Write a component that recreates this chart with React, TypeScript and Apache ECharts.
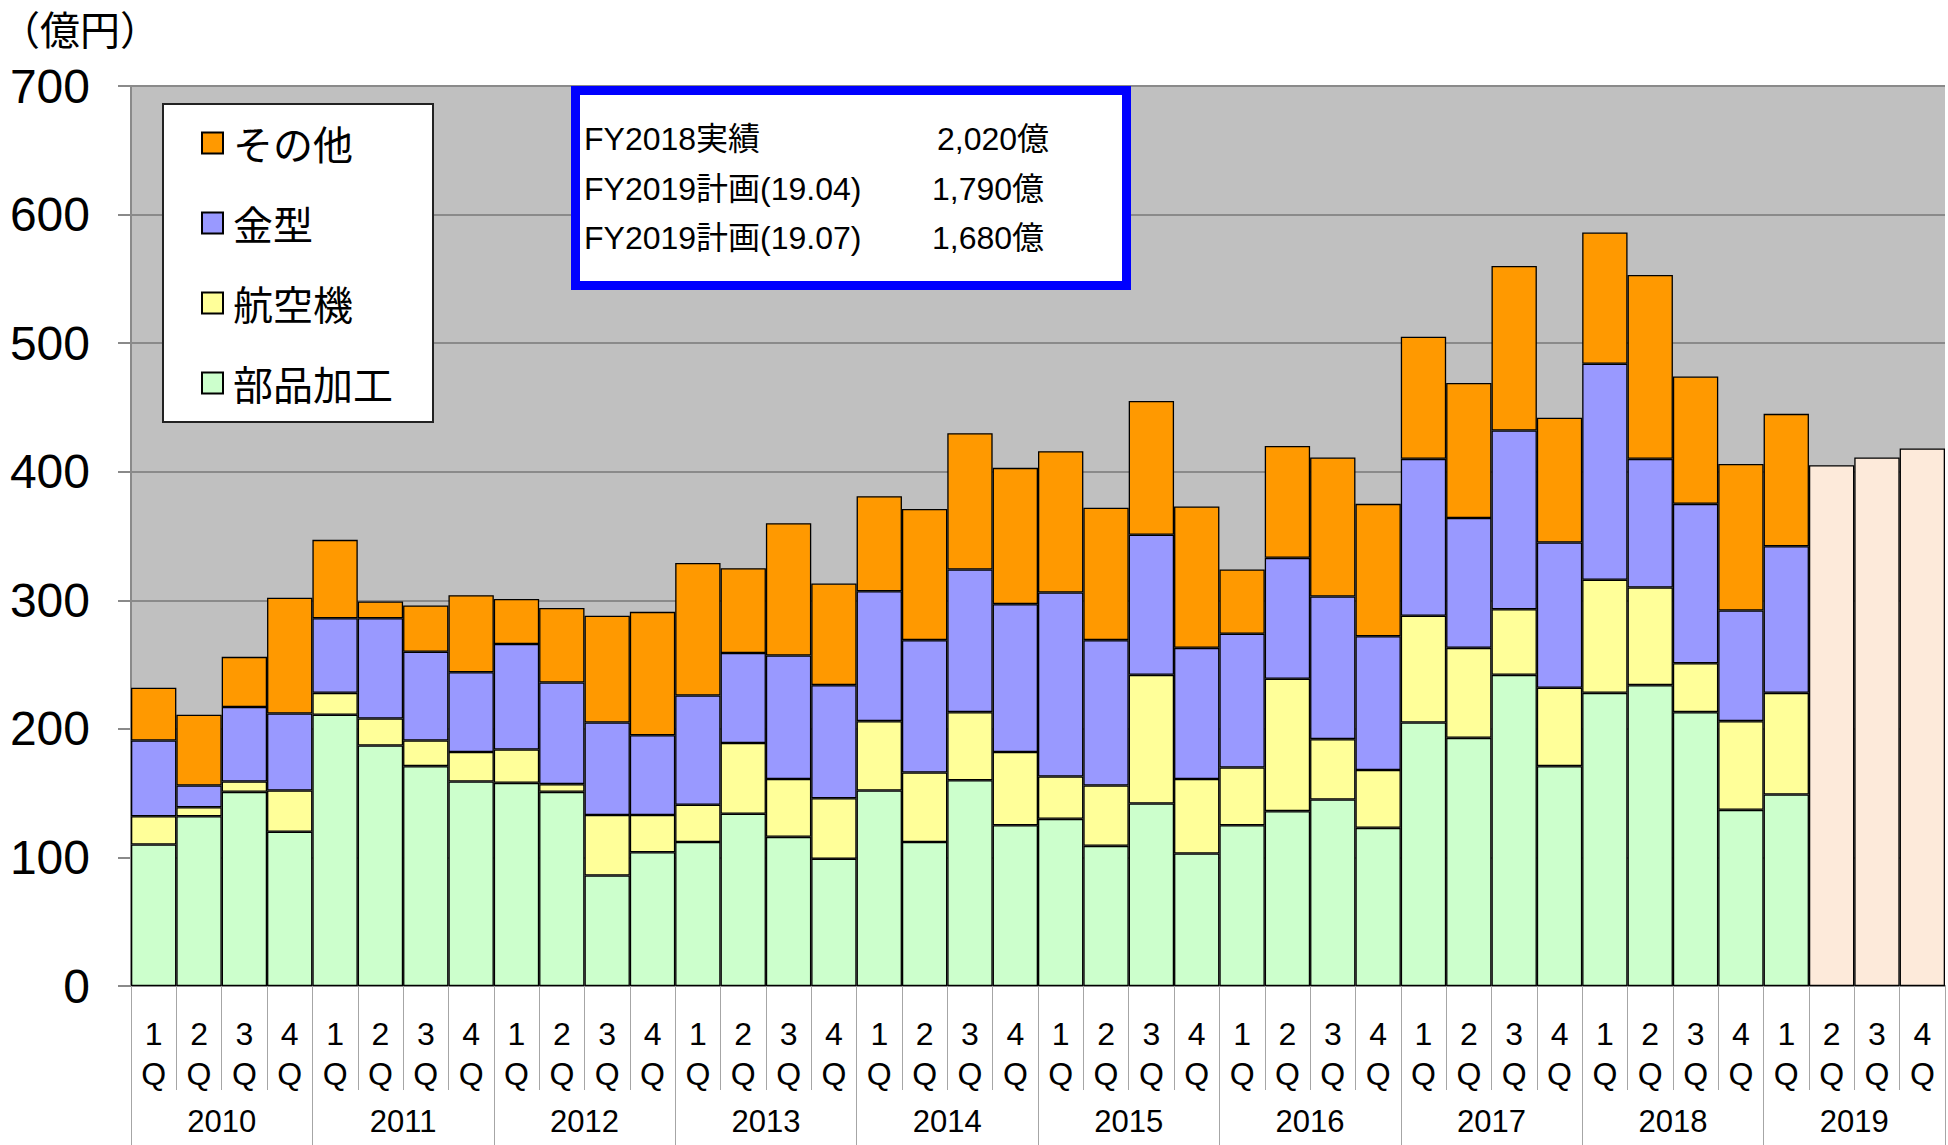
import React, { useEffect, useRef } from 'react';
import * as echarts from 'echarts';

// ---- data ----
const years = ['2010', '2011', '2012', '2013', '2014', '2015', '2016', '2017', '2018', '2019'];
const quarterNames = ['1Q', '2Q', '3Q', '4Q'];
const categories = years.flatMap((y) => quarterNames.map((q) => `${y}-${q}`));

const seriesNames = ['部品加工', '航空機', '金型', 'その他'];
const legendOrder = ['その他', '金型', '航空機', '部品加工'];

const partsValues = [110, 132, 151, 120, 211, 187, 171, 159, 158, 151, 86, 104, 112, 134, 116, 99, 152, 112, 160, 125, 130, 109, 142, 103, 125, 136, 145, 123, 205, 193, 242, 171, 228, 234, 213, 137, 149, null, null, null];
const aircraftValues = [22, 7, 8, 32, 17, 21, 20, 23, 26, 6, 47, 29, 29, 55, 45, 47, 54, 54, 53, 57, 33, 47, 100, 58, 45, 103, 47, 45, 83, 70, 51, 61, 88, 76, 38, 69, 79, null, null, null];
const moldValues = [59, 17, 58, 60, 58, 78, 69, 62, 82, 79, 72, 62, 85, 70, 96, 88, 101, 103, 111, 115, 143, 113, 109, 102, 104, 94, 111, 104, 122, 101, 139, 113, 168, 100, 124, 86, 114, null, null, null];
const otherValues = [41, 55, 39, 90, 61, 13, 36, 60, 35, 58, 83, 96, 103, 66, 103, 79, 74, 102, 106, 106, 110, 103, 104, 110, 50, 87, 108, 103, 95, 105, 128, 97, 102, 143, 99, 114, 103, null, null, null];
const planValues = [null, null, null, null, null, null, null, null, null, null, null, null, null, null, null, null, null, null, null, null, null, null, null, null, null, null, null, null, null, null, null, null, null, null, null, null, null, 405, 411, 418];

const yMin = 0;
const yMax = 700;
const yInterval = 100;
const yUnitLabel = '（億円）';

const summaryLabels = ['FY2018実績', 'FY2019計画(19.04)', 'FY2019計画(19.07)'];
const summaryValues = ['2,020億', '1,790億', '1,680億'];

// ---- styles ----
const colors: Record<string, string> = {
  部品加工: '#CCFFCC',
  航空機: '#FFFF99',
  金型: '#9999FF',
  その他: '#FF9900',
  計画: '#FDEADA',
};
const latin = "'Liberation Sans', Arial, 'Noto Sans CJK JP', sans-serif";
const cjk = "'Noto Sans CJK JP', 'Liberation Sans', sans-serif";
const gridGray = '#8a8a8a';

export default function App() {
  const ref = useRef<HTMLDivElement>(null);

  useEffect(() => {
    if (!ref.current) return;
    const chart = echarts.init(ref.current, undefined, { renderer: 'svg' });

    const valueArrays = [partsValues, aircraftValues, moldValues, otherValues];
    const barStyle = (name: string) => ({
      color: colors[name],
      borderColor: '#000',
      borderWidth: 1.3,
    });

    const series: any[] = seriesNames.map((name, i) => ({
      name,
      type: 'bar',
      stack: 'actual',
      barWidth: '100%',
      barGap: '-100%',
      data: valueArrays[i],
      itemStyle: barStyle(name),
      emphasis: { disabled: true },
    }));
    series.push({
      name: '計画',
      type: 'bar',
      stack: 'plan',
      barWidth: '100%',
      barGap: '-100%',
      data: planValues,
      itemStyle: barStyle('計画'),
      emphasis: { disabled: true },
    });

    const graphic: any[] = [
      {
        type: 'text',
        x: 0,
        y: 28,
        style: { text: yUnitLabel, fontSize: 40, fontFamily: cjk, fill: '#000', verticalAlign: 'middle' },
      },
      {
        type: 'rect',
        z: 50,
        shape: { x: 575.5, y: 90.5, width: 551, height: 195 },
        style: { fill: '#ffffff', stroke: '#0000FF', lineWidth: 9 },
      },
    ];
    summaryLabels.forEach((label, i) => {
      const y = 139 + i * 49.5;
      graphic.push({
        type: 'text',
        z: 51,
        x: 584,
        y,
        style: { text: label, fontSize: 32, fontFamily: latin, fill: '#000', verticalAlign: 'middle' },
      });
      graphic.push({
        type: 'text',
        z: 51,
        x: i === 0 ? 937 : 932,
        y,
        style: { text: summaryValues[i], fontSize: 32, fontFamily: latin, fill: '#000', verticalAlign: 'middle' },
      });
    });

    chart.setOption({
      animation: false,
      backgroundColor: '#ffffff',
      grid: {
        left: 131,
        right: 3,
        top: 86,
        bottom: 159,
        show: true,
        backgroundColor: '#C0C0C0',
        borderWidth: 0,
        containLabel: false,
      },
      legend: {
        data: legendOrder,
        orient: 'vertical',
        left: 163,
        top: 104,
        icon: 'rect',
        backgroundColor: '#ffffff',
        borderColor: '#222',
        borderWidth: 2,
        borderRadius: 0,
        padding: [15, 40, 15, 38],
        itemGap: 32,
        itemWidth: 21,
        itemHeight: 21,
        selectedMode: false,
        textStyle: { fontSize: 40, lineHeight: 48, fontFamily: cjk, color: '#000', padding: [0, 0, 0, 5] },
      },
      xAxis: [
        {
          type: 'category',
          data: categories,
          position: 'bottom',
          axisLine: { show: true, lineStyle: { color: gridGray, width: 2 } },
          axisTick: { show: true, interval: 0, length: 104, lineStyle: { color: '#a6a6a6', width: 1 } },
          axisLabel: {
            interval: 0,
            margin: 28,
            fontSize: 32,
            lineHeight: 40,
            color: '#000',
            fontFamily: latin,
            formatter: (v: string) => {
              const q = v.split('-')[1];
              return q.charAt(0) + '\n' + q.charAt(1);
            },
          },
          splitLine: { show: false },
        },
        {
          type: 'category',
          data: years,
          position: 'bottom',
          axisLine: { show: false },
          axisTick: { show: true, interval: 0, length: 159, lineStyle: { color: '#a6a6a6', width: 1 } },
          axisLabel: { interval: 0, margin: 119, fontSize: 31, lineHeight: 32, color: '#000', fontFamily: latin },
          splitLine: { show: false },
        },
      ],
      yAxis: {
        type: 'value',
        min: yMin,
        max: yMax,
        interval: yInterval,
        axisLine: { show: true, lineStyle: { color: gridGray, width: 2 } },
        axisTick: { show: true, length: 13, lineStyle: { color: gridGray, width: 2 } },
        axisLabel: { fontSize: 48, margin: 41, color: '#000', fontFamily: latin },
        splitLine: { show: true, lineStyle: { color: gridGray, width: 2 } },
      },
      series,
      graphic,
    });

    return () => {
      chart.dispose();
    };
  }, []);

  return (
    <div
      ref={ref}
      style={{ position: 'absolute', left: 0, top: 0, width: 1948, height: 1145, background: '#fff' }}
    />
  );
}
